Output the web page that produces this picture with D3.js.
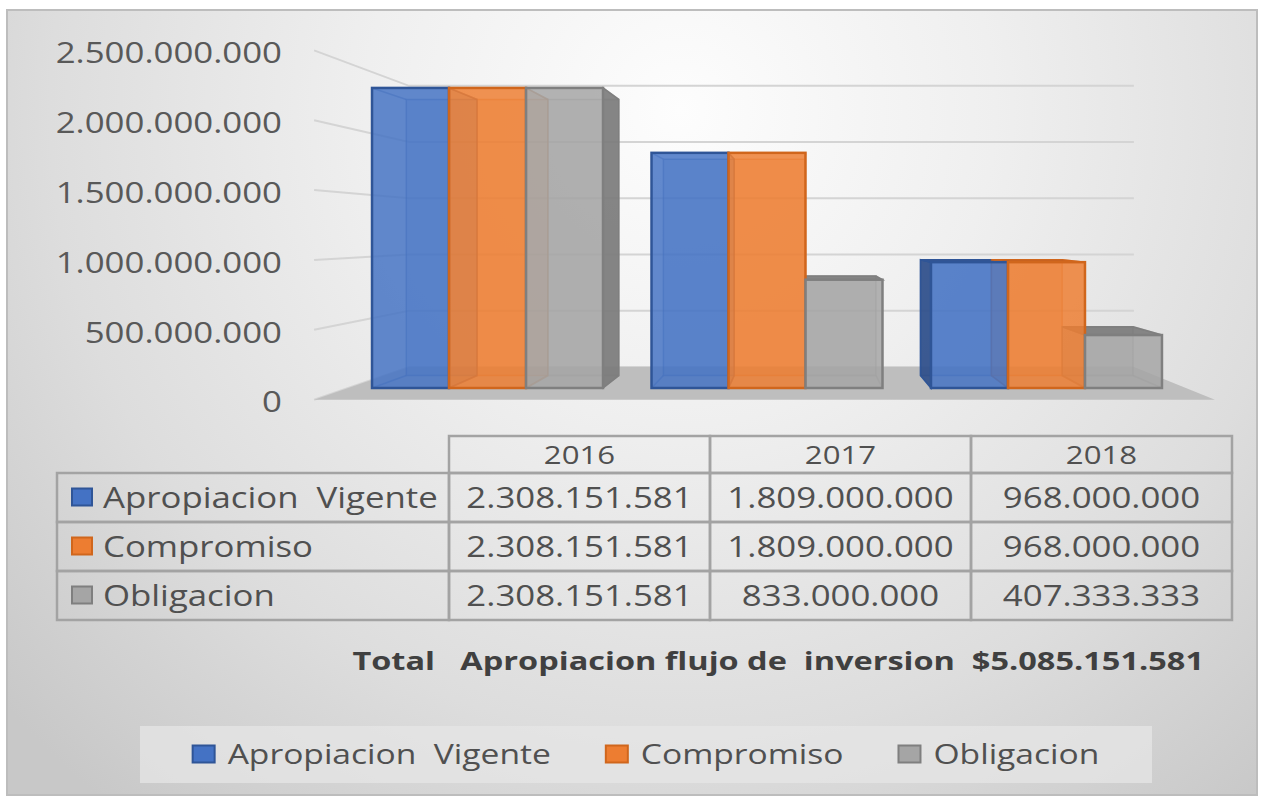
<!DOCTYPE html>
<html>
<head>
<meta charset="utf-8">
<script src="https://cdn.jsdelivr.net/npm/d3@7"></script>
<style>
  body { margin: 0; background: #fff; }
  svg { display: block; font-family: "Open Sans", sans-serif; }
</style>
</head>
<body>
<div id="chart"></div>
<script>
const years = ["2016", "2017", "2018"];
const seriesNames = ["Apropiacion  Vigente", "Compromiso", "Obligacion"];
const apropiacionVigente = [2308151581, 1809000000, 968000000];
const compromiso = [2308151581, 1809000000, 968000000];
const obligacion = [2308151581, 833000000, 407333333];
const yTicks = [0, 500000000, 1000000000, 1500000000, 2000000000, 2500000000];
const totalLabel = "Total   Apropiacion flujo de  inversion  ";

const seriesValues = [apropiacionVigente, compromiso, obligacion];
const fills = ["#4472c4", "#ed7d31", "#a5a5a5"];
const edges = ["#2f5597", "#d0661c", "#7f7f7f"];
const sides = ["#2c4d88", "#b9581a", "#7a7a7a"];

const W = 1264, H = 799;
// fake 3d: vanishing point and depth scales
const VP = { x: 800, y: 232 };
const S_FRONT = 1.075, S_WALL = 0.865, S_BAR = 0.92;
const SX = 1.2; // the picture is stretched sideways, so is the text
const X0 = 348, X1 = 1186;

const locale = d3.formatLocale({ decimal: ",", thousands: ".", grouping: [3], currency: ["$", ""] });
const fmt = locale.format(",d");
const fmtMoney = locale.format("$,d");

function project(x, y, s) {
  return [VP.x + s * (x - VP.x), VP.y + s * (y - VP.y)];
}
function poly(pts) {
  return pts.map((p) => p.join(",")).join(" ");
}
function stretched(sel, x, y, sx = SX) {
  return sel.attr("transform", "translate(" + x + "," + y + ") scale(" + sx + ",1)");
}

const svg = d3.select("#chart").append("svg").attr("width", W).attr("height", H);

const grad = svg.append("defs").append("radialGradient")
  .attr("id", "bg").attr("gradientUnits", "userSpaceOnUse")
  .attr("cx", 680).attr("cy", 110).attr("r", 900);
grad.append("stop").attr("offset", 0).attr("stop-color", "#fdfdfd");
grad.append("stop").attr("offset", 0.35).attr("stop-color", "#efefef");
grad.append("stop").attr("offset", 0.7).attr("stop-color", "#dddddd");
grad.append("stop").attr("offset", 1).attr("stop-color", "#c8c8c8");

svg.append("rect")
  .attr("x", 7).attr("y", 10).attr("width", 1250).attr("height", 785)
  .attr("fill", "url(#bg)").attr("stroke", "#bdbdbd").attr("stroke-width", 2);

const x = d3.scaleBand().domain(years).range([X0, X1]).paddingInner(0.1735).paddingOuter(0.086);
const xs = d3.scaleBand().domain(d3.range(seriesNames.length)).range([0, x.bandwidth()]);
const y = d3.scaleLinear().domain([0, 2500000000]).range([388, 63]);

// walls: gridlines on the back wall and the left side wall
const grid = svg.append("g").attr("stroke", "#d4d4d4").attr("stroke-width", 2).attr("fill", "none");
yTicks.forEach((t) => {
  const a = project(X0, y(t), S_FRONT), b = project(X0, y(t), S_WALL), c = project(X1, y(t), S_WALL);
  grid.append("polyline").attr("points", poly([a, b, c]));
});

// floor
svg.append("polygon")
  .attr("points", poly([project(X0, y(0), S_WALL), project(X1, y(0), S_WALL), project(X1, y(0), S_FRONT), project(X0, y(0), S_FRONT)]))
  .attr("fill", "#bebebe");

// y axis labels sit on the front edge of the side wall
const yLab = d3.scaleLinear().domain([0, 2500000000])
  .range([project(X0, y(0), S_FRONT)[1], project(X0, y(2500000000), S_FRONT)[1]]);
const axis = svg.append("g").attr("transform", "translate(282,3)")
  .call(d3.axisLeft(yLab).tickValues(yTicks).tickSize(0).tickPadding(0).tickFormat(fmt));
axis.select(".domain").remove();
axis.selectAll("text")
  .attr("font-size", 29).attr("fill", "#595959")
  .attr("font-family", "Open Sans, sans-serif")
  .attr("transform", "scale(" + SX + ",1)");

// bars as boxes
const boxes = [];
years.forEach((yr, i) => {
  seriesValues.forEach((vals, j) => {
    const x0 = x(yr) + xs(j), x1 = x0 + xs.bandwidth();
    boxes.push({ j, x0, x1, yT: y(vals[i]), yB: y(0) });
  });
});

const last = seriesNames.length - 1;
const inner = svg.append("g"), faces = svg.append("g"), fronts = svg.append("g");
boxes.forEach((d) => {
  const f = [[d.x0, d.yT], [d.x1, d.yT], [d.x1, d.yB], [d.x0, d.yB]];
  const b = f.map((p) => project(p[0], p[1], S_BAR));
  // hidden edges seen through the glass
  inner.append("polygon").attr("points", poly(b))
    .attr("fill", fills[d.j]).attr("fill-opacity", 0.25)
    .attr("stroke", edges[d.j]).attr("stroke-opacity", 0.45).attr("stroke-width", 1.5);
  f.forEach((p, k) => {
    inner.append("line").attr("x1", p[0]).attr("y1", p[1]).attr("x2", b[k][0]).attr("y2", b[k][1])
      .attr("stroke", edges[d.j]).attr("stroke-opacity", 0.45).attr("stroke-width", 1.5);
  });
  const face = (pts, hidden) => faces.append("polygon").attr("points", poly(pts))
    .attr("fill", sides[d.j]).attr("fill-opacity", hidden ? 0.35 : 0.9)
    .attr("stroke", edges[d.j]).attr("stroke-opacity", hidden ? 0.4 : 1).attr("stroke-width", 1.5);
  if (d.x0 > VP.x) face([f[0], b[0], b[3], f[3]], d.j > 0);
  if (d.x1 < VP.x) face([f[1], b[1], b[2], f[2]], d.j < last);
  if (d.yT > VP.y) face([f[0], f[1], b[1], b[0]], false);
  fronts.append("rect")
    .attr("x", d.x0).attr("y", d.yT).attr("width", d.x1 - d.x0).attr("height", d.yB - d.yT)
    .attr("fill", fills[d.j]).attr("fill-opacity", 0.84)
    .attr("stroke", edges[d.j]).attr("stroke-width", 2.5);
});

// data table under the chart
const tLeft = 57, tLabelW = 392, colW = 261, hTop = 436, hH = 37, rTop = 473, rH = 49;
const table = svg.append("g");
const cell = (xx, yy, w, h) => table.append("rect")
  .attr("x", xx).attr("y", yy).attr("width", w).attr("height", h)
  .attr("fill", "none").attr("stroke", "#a3a3a3").attr("stroke-width", 2.5);
years.forEach((yr, i) => {
  const cx = tLeft + tLabelW + i * colW;
  cell(cx, hTop, colW, hH);
  stretched(table.append("text"), cx + colW / 2, hTop + hH / 2 + 9)
    .attr("text-anchor", "middle").attr("font-size", 26).attr("fill", "#505050").text(yr);
});
seriesNames.forEach((name, j) => {
  const ry = rTop + j * rH;
  cell(tLeft, ry, tLabelW, rH);
  table.append("rect").attr("x", 72).attr("y", ry + rH / 2 - 9).attr("width", 20).attr("height", 17)
    .attr("fill", fills[j]).attr("stroke", edges[j]).attr("stroke-width", 2);
  stretched(table.append("text"), 103, ry + rH / 2 + 10)
    .attr("font-size", 29).attr("fill", "#505050").attr("xml:space", "preserve").text(name);
  years.forEach((yr, i) => {
    const cx = tLeft + tLabelW + i * colW;
    cell(cx, ry, colW, rH);
    stretched(table.append("text"), cx + colW / 2, ry + rH / 2 + 10)
      .attr("text-anchor", "middle").attr("font-size", 29).attr("fill", "#505050")
      .text(fmt(seriesValues[j][i]));
  });
});

// total line
stretched(svg.append("text"), 1204, 670, 1.3)
  .attr("text-anchor", "end")
  .attr("font-size", 25).attr("font-weight", "bold").attr("fill", "#404040")
  .attr("xml:space", "preserve")
  .text(totalLabel + fmtMoney(d3.sum(apropiacionVigente)));

// legend
const legY = 726, legH = 57;
svg.append("rect").attr("x", 140).attr("y", legY).attr("width", 1012).attr("height", legH)
  .attr("fill", "#e6e6e6").attr("fill-opacity", 0.75);
const leg = svg.append("g");
let lx = 0;
seriesNames.forEach((name, j) => {
  leg.append("rect").attr("x", lx).attr("y", legY + legH / 2 - 9).attr("width", 22).attr("height", 17)
    .attr("fill", fills[j]).attr("stroke", edges[j]).attr("stroke-width", 2);
  const t = stretched(leg.append("text"), lx + 35, legY + legH / 2 + 9)
    .attr("font-size", 28).attr("fill", "#505050").attr("xml:space", "preserve").text(name);
  lx += 35 + t.node().getComputedTextLength() * SX + 55;
});
leg.attr("transform", "translate(" + (646 - (lx - 55) / 2) + ",0)");
</script>
</body>
</html>
